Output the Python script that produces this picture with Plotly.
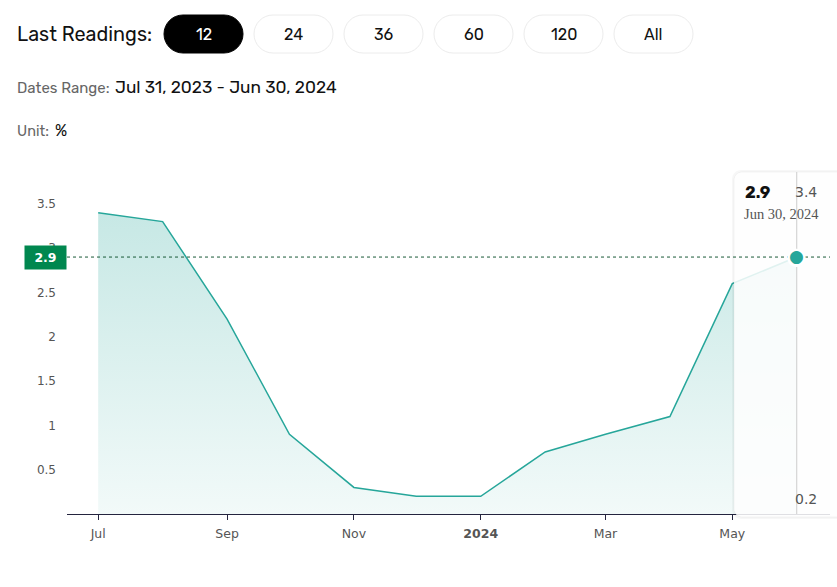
import plotly.graph_objects as go
import pandas as pd

# ---------------- data ----------------
dates = ["2023-07-31", "2023-08-31", "2023-09-30", "2023-10-31", "2023-11-30", "2023-12-31",
         "2024-01-31", "2024-02-29", "2024-03-31", "2024-04-30", "2024-05-31", "2024-06-30"]
values = [3.4, 3.3, 2.2, 0.9, 0.3, 0.2, 0.2, 0.7, 0.9, 1.1, 2.6, 2.9]

x_tick_dates = ["2023-07-01", "2023-09-01", "2023-11-01", "2024-01-01", "2024-03-01", "2024-05-01"]
x_tick_text = ["Jul", "Sep", "Nov", "<b>2024</b>", "Mar", "May"]
y_tick_vals = [0.5, 1, 1.5, 2, 2.5, 3, 3.5]
y_tick_text = ["0.5", "1", "1.5", "2", "2.5", "3", "3.5"]

buttons = ["12", "24", "36", "60", "120", "All"]
active_button = "12"
header_label = "Last Readings:"
range_label = "Dates Range:"
range_text = "Jul 31, 2023 - Jun 30, 2024"
unit_label = "Unit:"
unit_text = "%"

# plotting positions: month buckets
x_plot = pd.to_datetime(dates).to_period("M").to_timestamp()
last_x = x_plot[-1]
last_v = values[-1]
last_date_text = pd.to_datetime(dates[-1]).strftime("%b %d, %Y")
max_v, min_v = max(values), min(values)

# ---------------- geometry helpers ----------------
W, H = 837, 587
L, R, T, B = 67, 7, 160, 73
PW, PH = W - L - R, H - T - B


def px(x):
    return (x - L) / PW


def py(y):
    return (H - B - y) / PH


def rrect(x0, y0, x1, y1, r):
    k = 0.5523 * r
    pts = []
    pts.append(f"M{px(x0 + r)},{py(y0)}")
    pts.append(f"L{px(x1 - r)},{py(y0)}")
    pts.append(f"C{px(x1 - r + k)},{py(y0)} {px(x1)},{py(y0 + r - k)} {px(x1)},{py(y0 + r)}")
    pts.append(f"L{px(x1)},{py(y1 - r)}")
    pts.append(f"C{px(x1)},{py(y1 - r + k)} {px(x1 - r + k)},{py(y1)} {px(x1 - r)},{py(y1)}")
    pts.append(f"L{px(x0 + r)},{py(y1)}")
    pts.append(f"C{px(x0 + r - k)},{py(y1)} {px(x0)},{py(y1 - r + k)} {px(x0)},{py(y1 - r)}")
    pts.append(f"L{px(x0)},{py(y0 + r)}")
    pts.append(f"C{px(x0)},{py(y0 + r - k)} {px(x0 + r - k)},{py(y0)} {px(x0 + r)},{py(y0)}")
    return " ".join(pts) + " Z"


TEAL = "rgb(38,166,154)"
SANS = "Rubik, Roboto, sans-serif"

fig = go.Figure()
fig.add_trace(go.Scatter(
    x=x_plot, y=values, mode="lines",
    line=dict(color=TEAL, width=1.5),
    fill="tozeroy",
    fillgradient=dict(type="vertical", start=0, stop=max_v,
                      colorscale=[[0, "rgba(38,166,154,0.06)"], [1, "rgba(38,166,154,0.26)"]]),
    hoverinfo="skip", showlegend=False,
))

shapes = []
annotations = []

# header buttons
for i, b in enumerate(buttons):
    x0 = 164 + i * 90
    x1 = x0 + 79
    active = b == active_button
    shapes.append(dict(type="path", xref="paper", yref="paper", path=rrect(x0, 15, x1, 53, 19),
                       fillcolor="#000000" if active else "#ffffff",
                       line=dict(color="#000000" if active else "#ececec", width=1), layer="above"))
    annotations.append(dict(xref="paper", yref="paper", x=px((x0 + x1) / 2), y=py(34), text=b,
                            showarrow=False, xanchor="center", yanchor="middle",
                            font=dict(family=SANS, size=16, color="#ffffff" if active else "#111111")))

annotations += [
    dict(xref="paper", yref="paper", x=px(15), y=py(34), text=header_label, showarrow=False,
         xanchor="left", yanchor="middle", font=dict(family=SANS, size=19.8, color="#111111")),
    dict(xref="paper", yref="paper", x=px(15), y=py(88), text=range_label, showarrow=False,
         xanchor="left", yanchor="middle", font=dict(family=SANS, size=15, color="#666666")),
    dict(xref="paper", yref="paper", x=px(113), y=py(87), text=range_text, showarrow=False,
         xanchor="left", yanchor="middle", font=dict(family=SANS, size=17.3, color="#111111")),
    dict(xref="paper", yref="paper", x=px(15), y=py(131), text=unit_label, showarrow=False,
         xanchor="left", yanchor="middle", font=dict(family=SANS, size=14.5, color="#666666")),
    dict(xref="paper", yref="paper", x=px(53), y=py(130), text=unit_text, showarrow=False,
         xanchor="left", yanchor="middle", font=dict(family=SANS, size=16, color="#111111")),
]

# tooltip box (covers the last part of the chart)
shapes.append(dict(type="path", xref="paper", yref="paper", path=rrect(732, 170, 870, 519, 9),
                   fillcolor="rgba(0,0,0,0.03)", line=dict(width=0), layer="above"))
shapes.append(dict(type="path", xref="paper", yref="paper", path=rrect(734, 172, 870, 517, 8),
                   fillcolor="rgba(255,255,255,0.86)", line=dict(color="rgba(0,0,0,0.04)", width=1),
                   layer="above"))
# crosshair
shapes.append(dict(type="line", xref="x", yref="paper", x0=last_x, x1=last_x, y0=0, y1=py(172),
                   line=dict(color="#cccccc", width=1), layer="above"))
# dotted current-value line
shapes.append(dict(type="line", xref="paper", yref="y", x0=0, x1=1, y0=last_v, y1=last_v,
                   line=dict(color="#1a5a38", width=1, dash="dot"), layer="above"))

# marker (white ring + teal dot)
annotations.append(dict(xref="x", yref="y", x=last_x, y=last_v, text="●", showarrow=False,
                        xanchor="center", yanchor="middle", yshift=1,
                        font=dict(family="DejaVu Sans", size=24, color="#ffffff")))
annotations.append(dict(xref="x", yref="y", x=last_x, y=last_v, text="●", showarrow=False,
                        xanchor="center", yanchor="middle", yshift=1,
                        font=dict(family="DejaVu Sans", size=17, color=TEAL)))

# tooltip texts
annotations += [
    dict(xref="paper", yref="paper", x=px(743), y=py(192), text=f"<b>{last_v}</b>", showarrow=False,
         xanchor="left", yanchor="middle", font=dict(family=SANS, size=16.5, color="#111111")),
    dict(xref="paper", yref="paper", x=px(742), y=py(214), text=last_date_text, showarrow=False,
         xanchor="left", yanchor="middle", font=dict(family="Liberation Serif", size=14.5, color="#555555")),
    dict(xref="paper", yref="paper", x=px(793), y=py(192), text=f"{max_v}", showarrow=False,
         xanchor="left", yanchor="middle", font=dict(family="DejaVu Sans", size=14, color="#555555")),
    dict(xref="paper", yref="paper", x=px(793), y=py(499), text=f"{min_v}", showarrow=False,
         xanchor="left", yanchor="middle", font=dict(family="DejaVu Sans", size=14, color="#555555")),
]

# green current-value label
annotations.append(dict(xref="paper", yref="y", x=0, y=last_v, text=f"<b>{last_v}</b>", showarrow=False,
                        xanchor="right", yanchor="middle", width=41, height=23, borderpad=0,
                        bgcolor="#00874f", align="center",
                        font=dict(family="DejaVu Sans", size=12.5, color="#ffffff")))

fig.update_layout(
    width=W, height=H, autosize=False,
    margin=dict(l=L, r=R, t=T, b=B),
    paper_bgcolor="#ffffff", plot_bgcolor="#ffffff",
    hovermode=False, showlegend=False,
    shapes=shapes, annotations=annotations,
    xaxis=dict(range=["2023-06-16", "2024-06-17"], tickvals=pd.to_datetime(x_tick_dates),
               ticktext=x_tick_text, showgrid=False, zeroline=False,
               showline=True, linecolor="#24243e", linewidth=1,
               ticks="outside", ticklen=5, tickcolor="#24243e",
               ticklabelstandoff=3,
               tickfont=dict(family="DejaVu Sans", size=12.5, color="#555555")),
    yaxis=dict(range=[0, PH / 88.6], tickvals=y_tick_vals, ticktext=y_tick_text,
               showgrid=False, zeroline=False, showline=False, ticks="",
               ticklabelstandoff=10,
               tickfont=dict(family="DejaVu Sans", size=12, color="#555555")),
)

fig.write_html("out.html")
